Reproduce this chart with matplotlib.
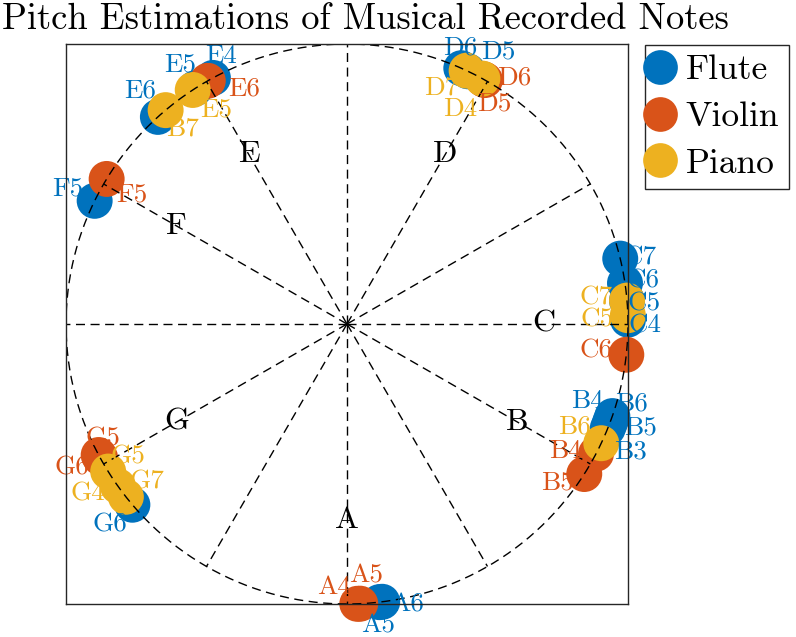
import numpy as np
import matplotlib
matplotlib.use("Agg")
import matplotlib.pyplot as plt
from matplotlib.lines import Line2D

plt.rcParams['font.family'] = ['cmr10', 'DejaVu Serif']
plt.rcParams['axes.formatter.use_mathtext'] = True

# ---------------- data ----------------
note_names = ["C", "D", "E", "F", "G", "A", "B"]
note_classes = [0, 2, 4, 5, 7, 9, 11]   # semitone position on the chroma circle

# pitch estimates, in semitones from C (0 = C, 11 = B)
flute_labels = ["E4", "E5", "E6", "F5", "D6", "D5", "C7", "C6", "C5", "C4",
                "B6", "B5", "B4", "B3", "G6", "A5", "A6"]
flute_pitch = [3.95, 4.09, 4.41, 5.13, 2.20, 2.15, 0.45, 0.28, 0.16, 0.03,
               11.36, 11.33, 11.30, 11.27, 7.34, 9.24, 9.22]

violin_labels = ["E6", "F5", "D6", "D5", "C6", "B4", "B5", "G5", "G6", "A4", "A5"]
violin_pitch = [3.99, 4.96, 2.03, 2.02, 11.79, 11.08, 10.92, 6.95, 6.93, 9.09, 9.07]

piano_labels = ["E5", "B7", "D7", "D4", "C7", "C5", "B6", "G5", "G4", "G7"]
piano_pitch = [4.11, 4.34, 2.16, 2.04, 0.16, 0.06, 11.16, 7.06, 7.18, 7.27]

series_names = ["Flute", "Violin", "Piano"]

# ---------------- style ----------------
colors = ["#0072BD", "#D95319", "#EDB120"]
flute_off = [(6, 16), (-11, 17), (-13, 19), (-19, 9), (-1, 15), (22, 14), (14, 1),
             (13, 2), (12, -2), (12, -4), (14, 9), (21, -5), (-16, 17), (16, -17),
             (-16, -14), (-3, -17), (20, -2)]
violin_off = [(26, -6), (18, -11), (22, 1), (7, -17), (-22, 3), (-22, 2), (-19, -6),
              (2, 14), (-19, -9), (-19, 12), (6, 20)]
piano_off = [(17, -14), (12, -13), (-18, -12), (-16, -22), (-22, 2), (-22, -3),
             (-19, 12), (14, 11), (-22, -5), (15, 11)]

W, H = 796, 637
fig = plt.figure(figsize=(W / 100, H / 100), dpi=100)
ax = fig.add_axes([66 / W, (H - 604) / H, 562 / W, 560 / H])
ax.set_xlim(-1, 1)
ax.set_ylim(-1, 1)
ax.set_xticks([])
ax.set_yticks([])
for s in ax.spines.values():
    s.set_color("#262626")
    s.set_linewidth(1.0)
    s.set_zorder(5)

dash = (0, (6.5, 4))
t = np.linspace(0, 2 * np.pi, 400)
ax.plot(np.cos(t), np.sin(t), color="k", lw=1.0, ls=dash, zorder=3)
for k in range(12):
    a = np.deg2rad(30 * k)
    ax.plot([0, np.cos(a)], [0, np.sin(a)], color="k", lw=1.0, ls=dash, zorder=3)

for name, cls in zip(note_names, note_classes):
    a = np.deg2rad(30 * cls)
    ax.text(0.7 * np.cos(a), 0.7 * np.sin(a), name, ha="center", va="center",
            fontsize=23, color="k", zorder=4)

def draw(pitch, labels, offs, color):
    a = np.deg2rad(30 * np.asarray(pitch))
    x, y = np.cos(a), np.sin(a)
    ax.scatter(x, y, s=670, color=color, edgecolors="none", zorder=2, clip_on=False)
    for xi, yi, lab, o in zip(x, y, labels, offs):
        ax.annotate(lab, (xi, yi), xytext=o, textcoords="offset points",
                    ha="center", va="center", fontsize=19.5, color=color, zorder=4,
                    annotation_clip=False)

draw(flute_pitch, flute_labels, flute_off, colors[0])
draw(violin_pitch, violin_labels, violin_off, colors[1])
draw(piano_pitch, piano_labels, piano_off, colors[2])

handles = [Line2D([], [], marker="o", ls="none", markersize=25, color=c, markeredgecolor="none")
           for c in colors]
leg = fig.legend(handles, series_names, loc="upper left",
                 bbox_to_anchor=(645 / W, 1 - 45 / H), fontsize=25.5,
                 frameon=True, fancybox=False, framealpha=1, edgecolor="#262626",
                 handletextpad=0.58, borderpad=0.27, labelspacing=0.42,
                 handlelength=0.3, borderaxespad=0)
leg.get_frame().set_linewidth(1.0)

fig.text(2 / W, 1 - 3 / H, "Pitch Estimations of Musical Recorded Notes",
         ha="left", va="top", fontsize=26.3)

fig.savefig("out.png", dpi=100)
